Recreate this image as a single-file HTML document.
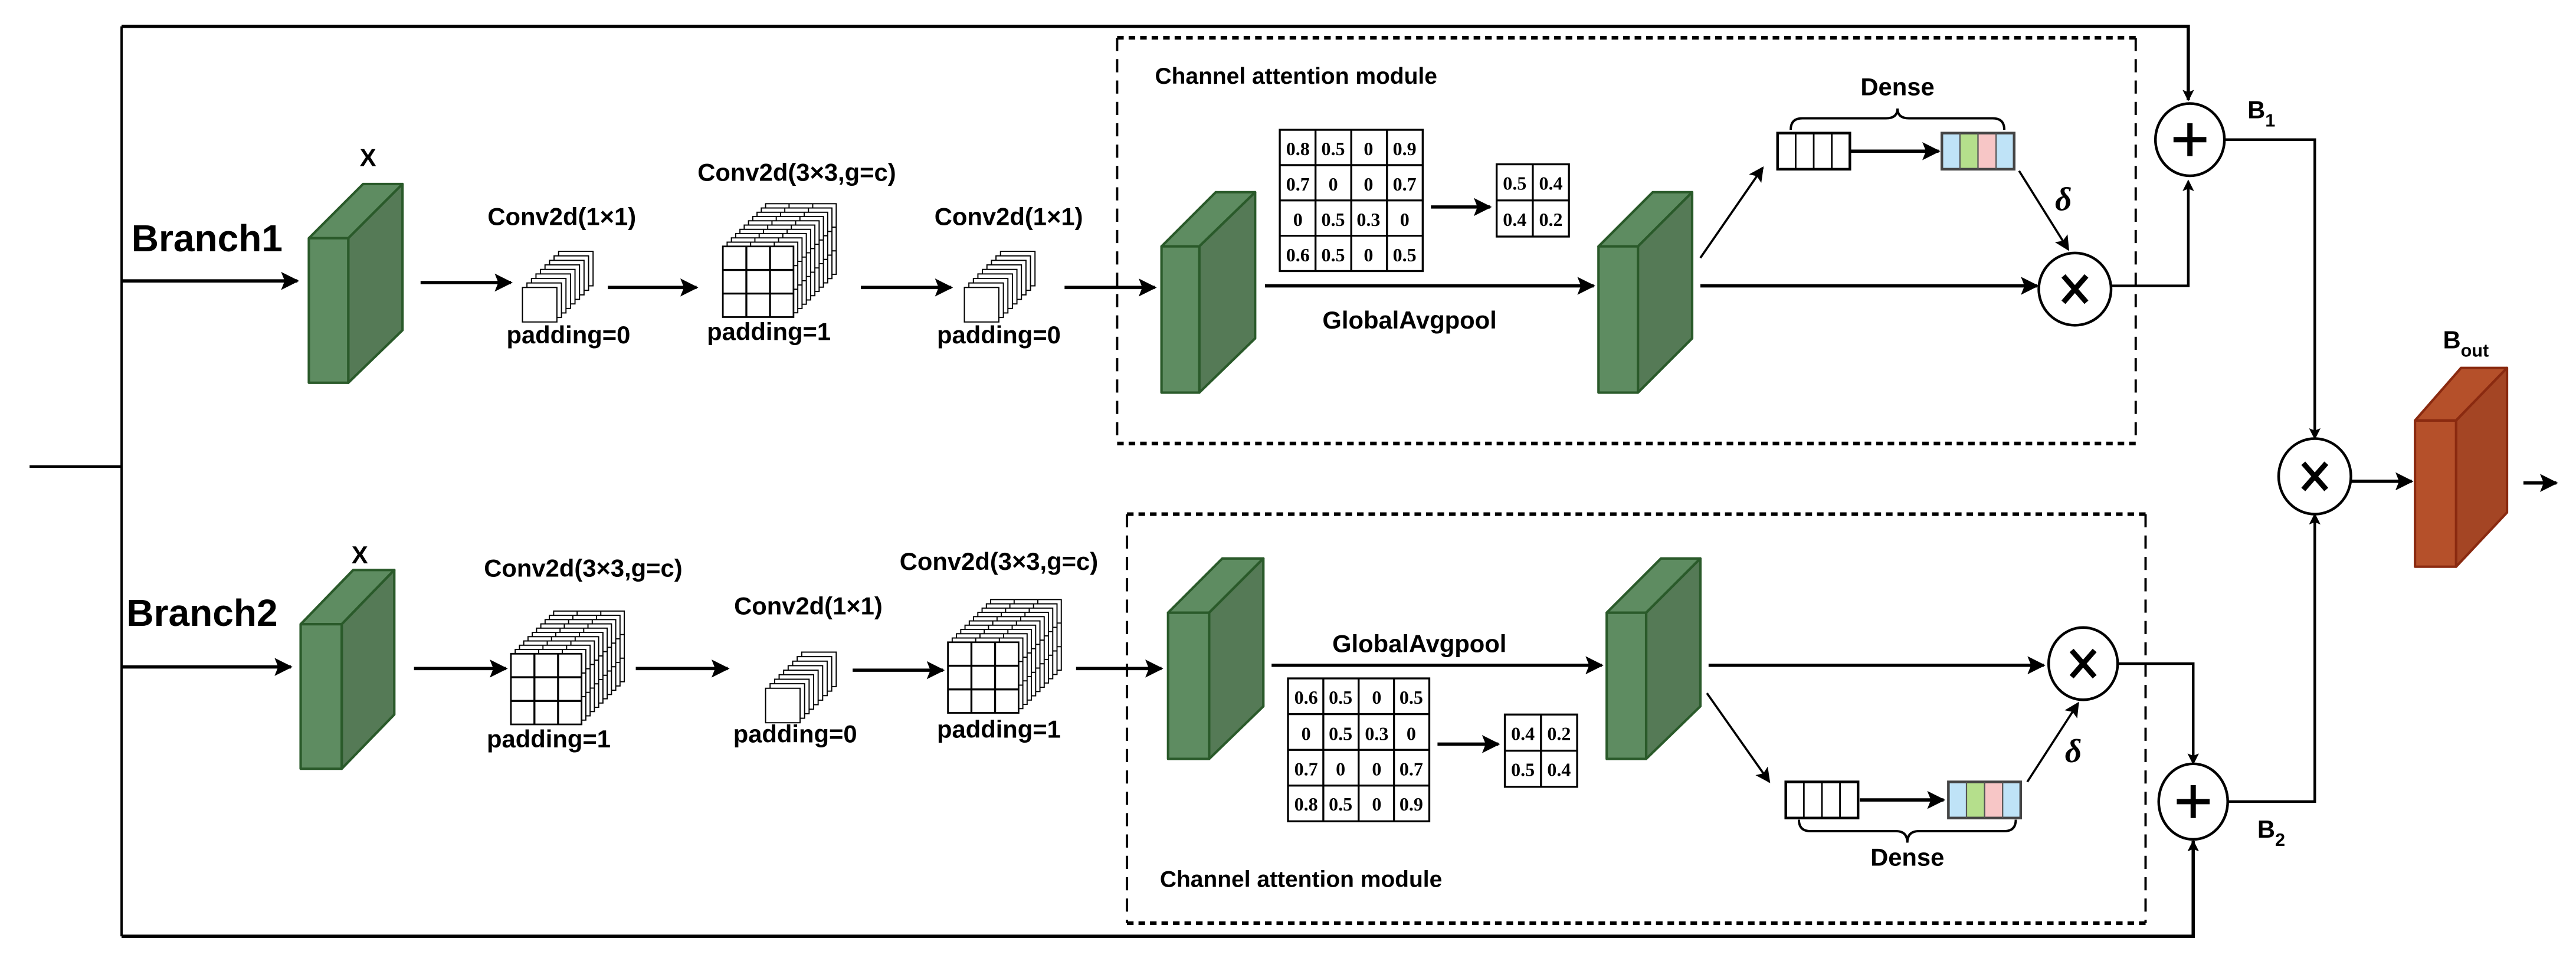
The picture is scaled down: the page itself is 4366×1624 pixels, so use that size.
<!DOCTYPE html>
<html><head><meta charset="utf-8"><style>
html,body{margin:0;padding:0;background:#fff;}
svg{display:block;}
.lb{font-family:"Liberation Sans",Arial,sans-serif;font-weight:bold;fill:#000;}
.mx{font-family:"Liberation Serif","Times New Roman",serif;font-weight:bold;font-size:11.5px;fill:#000;}
</style></head><body>
<svg width="4366" height="1624" viewBox="0 0 1568 583.2" xmlns="http://www.w3.org/2000/svg">
<defs>
<marker id="ah" viewBox="0 0 10 10" refX="9" refY="5" markerWidth="5.5" markerHeight="5.5" orient="auto" markerUnits="strokeWidth"><path d="M0,0 L10,5 L0,10 L2,5 z" fill="#000"/></marker>
<marker id="at" viewBox="0 0 10 10" refX="9" refY="5" markerWidth="7" markerHeight="7" orient="auto" markerUnits="strokeWidth"><path d="M0,0 L10,5 L0,10 L2,5 z" fill="#000"/></marker>
<g id="L1"><rect x="0" y="0" width="21" height="21" fill="#fff" stroke="#000" stroke-width="0.7"/></g>
<g id="S1">
<use href="#L1" x="22" y="-22"/><use href="#L1" x="19.25" y="-19.25"/><use href="#L1" x="16.5" y="-16.5"/><use href="#L1" x="13.75" y="-13.75"/><use href="#L1" x="11" y="-11"/><use href="#L1" x="8.25" y="-8.25"/><use href="#L1" x="5.5" y="-5.5"/><use href="#L1" x="2.75" y="-2.75"/><use href="#L1" x="0" y="0"/>
</g>
<g id="L3"><rect x="0" y="0" width="43" height="43" fill="#fff" stroke="#000" stroke-width="0.7"/><path d="M14.3,0V43M28.7,0V43M0,14.3H43M0,28.7H43" stroke="#000" stroke-width="0.7"/></g>
<g id="S3">
<use href="#L3" x="26" y="-26"/><use href="#L3" x="23.4" y="-23.4"/><use href="#L3" x="20.8" y="-20.8"/><use href="#L3" x="18.2" y="-18.2"/><use href="#L3" x="15.6" y="-15.6"/><use href="#L3" x="13" y="-13"/><use href="#L3" x="10.4" y="-10.4"/><use href="#L3" x="7.8" y="-7.8"/><use href="#L3" x="5.2" y="-5.2"/><use href="#L3" x="2.6" y="-2.6"/>
<rect x="0" y="0" width="43" height="43" fill="#fff" stroke="#000" stroke-width="1"/><path d="M14.3,0V43M28.7,0V43M0,14.3H43M0,28.7H43" stroke="#000" stroke-width="1.2"/>
</g>
<g id="VW"><rect x="0" y="0" width="44" height="22" fill="#fff" stroke="#000" stroke-width="1.6"/><path d="M11,0V22M22,0V22M33,0V22" stroke="#000" stroke-width="1"/></g>
<g id="VC"><rect x="0" y="0" width="11" height="22" fill="#bfe3f7"/><rect x="11" y="0" width="11" height="22" fill="#b5df8c"/><rect x="22" y="0" width="11" height="22" fill="#f7c6c6"/><rect x="33" y="0" width="11" height="22" fill="#bfe3f7"/><rect x="0" y="0" width="44" height="22" fill="none" stroke="#444" stroke-width="1.6"/><path d="M11,0V22M22,0V22M33,0V22" stroke="#555" stroke-width="0.8"/></g>
</defs>

<g fill="none" stroke="#000">
<path d="M18,284H74" stroke-width="1.6"/>
<path d="M74,16V570" stroke-width="1.4"/>
<path d="M74,16H1332V61" stroke-width="2"/>
<path d="M74,570H1335V512" stroke-width="2"/>
</g>
<path d="M1332,16V61" stroke="#000" stroke-width="1" marker-end="url(#at)"/>
<path d="M1335,570V512" stroke="#000" stroke-width="1" marker-end="url(#at)"/>

<text class="lb" x="80" y="153" font-size="23">Branch1</text>
<path d="M74,171H181" stroke="#000" stroke-width="2" marker-end="url(#ah)"/>
<g stroke="#2a5a2a" stroke-width="1.5" stroke-linejoin="round">
<path d="M188,145L221,112L245,112L212,145Z" fill="#5e8c61"/>
<path d="M212,145L245,112L245,201L212,233Z" fill="#557a56"/>
<rect x="188" y="145" width="24" height="88" fill="#5e8c61"/>
</g>
<text class="lb" x="224" y="101" font-size="15" text-anchor="middle">X</text>
<path d="M256,172H311" stroke="#000" stroke-width="2" marker-end="url(#ah)"/>
<use href="#S1" x="318" y="175"/>
<text class="lb" x="342" y="137" font-size="15" text-anchor="middle">Conv2d(1×1)</text>
<text class="lb" x="346" y="209" font-size="15" text-anchor="middle">padding=0</text>
<path d="M370,175H424" stroke="#000" stroke-width="2" marker-end="url(#ah)"/>
<use href="#S3" x="440" y="150"/>
<text class="lb" x="485" y="110" font-size="15" text-anchor="middle">Conv2d(3×3,g=c)</text>
<text class="lb" x="468" y="207" font-size="15" text-anchor="middle">padding=1</text>
<path d="M524,175H579" stroke="#000" stroke-width="2" marker-end="url(#ah)"/>
<use href="#S1" x="587" y="175"/>
<text class="lb" x="614" y="137" font-size="15" text-anchor="middle">Conv2d(1×1)</text>
<text class="lb" x="608" y="209" font-size="15" text-anchor="middle">padding=0</text>
<path d="M648,175H703" stroke="#000" stroke-width="2" marker-end="url(#ah)"/>

<g fill="none" stroke="#000">
<path d="M680,23H1300M680,270H1300" stroke-width="2.2" stroke-dasharray="4,3"/>
<path d="M680,23V270M1300,23V270" stroke-width="1.4" stroke-dasharray="8,5"/>
</g>
<text class="lb" x="703" y="51" font-size="14">Channel attention module</text>
<g stroke="#2a5a2a" stroke-width="1.5" stroke-linejoin="round">
<path d="M707,150L740,117L764,117L730,150Z" fill="#5e8c61"/>
<path d="M730,150L764,117L764,206L730,239Z" fill="#557a56"/>
<rect x="707" y="150" width="23" height="89" fill="#5e8c61"/>
<path d="M973,150L1006,117L1030,117L997,150Z" fill="#5e8c61"/>
<path d="M997,150L1030,117L1030,206L997,239Z" fill="#557a56"/>
<rect x="973" y="150" width="24" height="89" fill="#5e8c61"/>
</g>
<g fill="#fff" stroke="#000" stroke-width="1.2">
<rect x="779" y="79" width="87" height="86"/>
<path d="M800.75,79V165M822.5,79V165M844.25,79V165M779,100.5H866M779,122H866M779,143.5H866" fill="none"/>
<rect x="911" y="100" width="44" height="44"/>
<path d="M933,100V144M911,122H955" fill="none"/>
</g>
<g class="mx" text-anchor="middle">
<text x="790" y="94.5">0.8</text><text x="811.5" y="94.5">0.5</text><text x="833" y="94.5">0</text><text x="855" y="94.5">0.9</text>
<text x="790" y="116">0.7</text><text x="811.5" y="116">0</text><text x="833" y="116">0</text><text x="855" y="116">0.7</text>
<text x="790" y="137.5">0</text><text x="811.5" y="137.5">0.5</text><text x="833" y="137.5">0.3</text><text x="855" y="137.5">0</text>
<text x="790" y="159">0.6</text><text x="811.5" y="159">0.5</text><text x="833" y="159">0</text><text x="855" y="159">0.5</text>
<text x="922" y="115.5">0.5</text><text x="944" y="115.5">0.4</text>
<text x="922" y="137.5">0.4</text><text x="944" y="137.5">0.2</text>
</g>
<path d="M871,126H907" stroke="#000" stroke-width="2" marker-end="url(#ah)"/>
<path d="M770,174H970" stroke="#000" stroke-width="2" marker-end="url(#ah)"/>
<text class="lb" x="858" y="200" font-size="15" text-anchor="middle">GlobalAvgpool</text>
<path d="M1035,174H1240" stroke="#000" stroke-width="2" marker-end="url(#ah)"/>
<path d="M1035,157L1073,102" stroke="#000" stroke-width="1.3" marker-end="url(#at)"/>
<use href="#VW" x="1082" y="81"/>
<path d="M1126,92H1180" stroke="#000" stroke-width="2" marker-end="url(#ah)"/>
<use href="#VC" x="1182" y="81"/>
<path d="M1090,79Q1090,72 1097,72H1148Q1155,72 1155,66Q1155,72 1162,72H1213Q1220,72 1220,79" fill="none" stroke="#000" stroke-width="1.4"/>
<text class="lb" x="1155" y="58" font-size="15" text-anchor="middle">Dense</text>
<text x="1256" y="128" font-family="Liberation Serif,serif" font-style="italic" font-weight="bold" font-size="20" text-anchor="middle">δ</text>
<path d="M1229,104L1259,152" stroke="#000" stroke-width="1.3" marker-end="url(#at)"/>
<ellipse cx="1263" cy="176" rx="22" ry="22" fill="#fff" stroke="#000" stroke-width="1.6"/>
<path d="M1256,168L1270,184M1270,168L1256,184" stroke="#000" stroke-width="3.2"/>
<path d="M1285,174H1332V111" fill="none" stroke="#000" stroke-width="1.6"/>
<path d="M1332,130V110" stroke="#000" stroke-width="1" marker-end="url(#at)"/>
<ellipse cx="1333" cy="85" rx="21" ry="22" fill="#fff" stroke="#000" stroke-width="1.6"/>
<path d="M1323,85H1343M1333,75V95" stroke="#000" stroke-width="3.2"/>
<text class="lb" x="1368" y="72" font-size="15">B<tspan font-size="11" dy="5">1</tspan></text>
<path d="M1354,85H1409V266" fill="none" stroke="#000" stroke-width="1.6"/>
<path d="M1409,250V267" stroke="#000" stroke-width="1" marker-end="url(#at)"/>

<text class="lb" x="77" y="381" font-size="23">Branch2</text>
<path d="M74,406H177" stroke="#000" stroke-width="2" marker-end="url(#ah)"/>
<g stroke="#2a5a2a" stroke-width="1.5" stroke-linejoin="round">
<path d="M183,380L215,347L240,347L208,380Z" fill="#5e8c61"/>
<path d="M208,380L240,347L240,435L208,468Z" fill="#557a56"/>
<rect x="183" y="380" width="25" height="88" fill="#5e8c61"/>
</g>
<text class="lb" x="219" y="343" font-size="15" text-anchor="middle">X</text>
<path d="M252,407H308" stroke="#000" stroke-width="2" marker-end="url(#ah)"/>
<use href="#S3" x="311" y="398"/>
<text class="lb" x="355" y="351" font-size="15" text-anchor="middle">Conv2d(3×3,g=c)</text>
<text class="lb" x="334" y="455" font-size="15" text-anchor="middle">padding=1</text>
<path d="M387,407H443" stroke="#000" stroke-width="2" marker-end="url(#ah)"/>
<use href="#S1" x="466" y="419"/>
<text class="lb" x="492" y="374" font-size="15" text-anchor="middle">Conv2d(1×1)</text>
<text class="lb" x="484" y="452" font-size="15" text-anchor="middle">padding=0</text>
<path d="M519,408H574" stroke="#000" stroke-width="2" marker-end="url(#ah)"/>
<use href="#S3" x="577" y="391"/>
<text class="lb" x="608" y="347" font-size="15" text-anchor="middle">Conv2d(3×3,g=c)</text>
<text class="lb" x="608" y="449" font-size="15" text-anchor="middle">padding=1</text>
<path d="M655,407H707" stroke="#000" stroke-width="2" marker-end="url(#ah)"/>

<g fill="none" stroke="#000">
<path d="M686,313H1306M686,562H1306" stroke-width="2.2" stroke-dasharray="4,3"/>
<path d="M686,313V562M1306,313V562" stroke-width="1.4" stroke-dasharray="8,5"/>
</g>
<g stroke="#2a5a2a" stroke-width="1.5" stroke-linejoin="round">
<path d="M711,373L744,340L769,340L736,373Z" fill="#5e8c61"/>
<path d="M736,373L769,340L769,430L736,462Z" fill="#557a56"/>
<rect x="711" y="373" width="25" height="89" fill="#5e8c61"/>
<path d="M978,373L1011,340L1035,340L1002,373Z" fill="#5e8c61"/>
<path d="M1002,373L1035,340L1035,430L1002,462Z" fill="#557a56"/>
<rect x="978" y="373" width="24" height="89" fill="#5e8c61"/>
</g>
<path d="M774,405H975" stroke="#000" stroke-width="2" marker-end="url(#ah)"/>
<text class="lb" x="864" y="397" font-size="15" text-anchor="middle">GlobalAvgpool</text>
<g fill="#fff" stroke="#000" stroke-width="1.2">
<rect x="784" y="413" width="86" height="87"/>
<path d="M805.5,413V500M827,413V500M848.5,413V500M784,434.75H870M784,456.5H870M784,478.25H870" fill="none"/>
<rect x="916" y="435" width="44" height="44"/>
<path d="M938,435V479M916,457H960" fill="none"/>
</g>
<g class="mx" text-anchor="middle">
<text x="795" y="428.5">0.6</text><text x="816" y="428.5">0.5</text><text x="838" y="428.5">0</text><text x="859" y="428.5">0.5</text>
<text x="795" y="450.5">0</text><text x="816" y="450.5">0.5</text><text x="838" y="450.5">0.3</text><text x="859" y="450.5">0</text>
<text x="795" y="472">0.7</text><text x="816" y="472">0</text><text x="838" y="472">0</text><text x="859" y="472">0.7</text>
<text x="795" y="493.5">0.8</text><text x="816" y="493.5">0.5</text><text x="838" y="493.5">0</text><text x="859" y="493.5">0.9</text>
<text x="927" y="450.5">0.4</text><text x="949" y="450.5">0.2</text>
<text x="927" y="472.5">0.5</text><text x="949" y="472.5">0.4</text>
</g>
<path d="M875,453H912" stroke="#000" stroke-width="2" marker-end="url(#ah)"/>
<path d="M1040,405H1244" stroke="#000" stroke-width="2" marker-end="url(#ah)"/>
<path d="M1039,422L1077,476" stroke="#000" stroke-width="1.3" marker-end="url(#at)"/>
<use href="#VW" x="1087" y="476"/>
<path d="M1132,487H1183" stroke="#000" stroke-width="2" marker-end="url(#ah)"/>
<use href="#VC" x="1186" y="476"/>
<path d="M1095,499Q1095,506 1102,506H1154Q1161,506 1161,513Q1161,506 1168,506H1220Q1227,506 1227,499" fill="none" stroke="#000" stroke-width="1.4"/>
<text class="lb" x="1161" y="527" font-size="15" text-anchor="middle">Dense</text>
<text x="1262" y="464" font-family="Liberation Serif,serif" font-style="italic" font-weight="bold" font-size="20" text-anchor="middle">δ</text>
<path d="M1234,476L1265,428" stroke="#000" stroke-width="1.3" marker-end="url(#at)"/>
<text class="lb" x="706" y="540" font-size="14">Channel attention module</text>
<ellipse cx="1268" cy="404" rx="21" ry="22" fill="#fff" stroke="#000" stroke-width="1.6"/>
<path d="M1261,396L1275,412M1275,396L1261,412" stroke="#000" stroke-width="3.2"/>
<path d="M1289,404H1335V464" fill="none" stroke="#000" stroke-width="1.6"/>
<path d="M1335,450V465" stroke="#000" stroke-width="1" marker-end="url(#at)"/>
<ellipse cx="1335" cy="488" rx="21" ry="23" fill="#fff" stroke="#000" stroke-width="1.6"/>
<path d="M1325,488H1345M1335,478V498" stroke="#000" stroke-width="3.2"/>
<text class="lb" x="1374" y="510" font-size="15">B<tspan font-size="11" dy="5">2</tspan></text>
<path d="M1356,488H1409V313" fill="none" stroke="#000" stroke-width="1.6"/>
<path d="M1409,330V313" stroke="#000" stroke-width="1" marker-end="url(#at)"/>

<ellipse cx="1409" cy="290" rx="22" ry="23" fill="#fff" stroke="#000" stroke-width="1.6"/>
<path d="M1402,282L1416,298M1416,282L1402,298" stroke="#000" stroke-width="3.2"/>
<path d="M1431,293H1468" stroke="#000" stroke-width="2" marker-end="url(#ah)"/>
<g stroke="#8a2a10" stroke-width="1.5" stroke-linejoin="round">
<path d="M1470,256L1498,224L1526,224L1495,256Z" fill="#b5502a"/>
<path d="M1495,256L1526,224L1526,312L1495,345Z" fill="#a44524"/>
<rect x="1470" y="256" width="25" height="89" fill="#b5502a"/>
</g>
<text class="lb" x="1487" y="212" font-size="15">B<tspan font-size="11" dy="5">out</tspan></text>
<path d="M1536,294H1556" stroke="#000" stroke-width="2" marker-end="url(#ah)"/>
</svg>
</body></html>
